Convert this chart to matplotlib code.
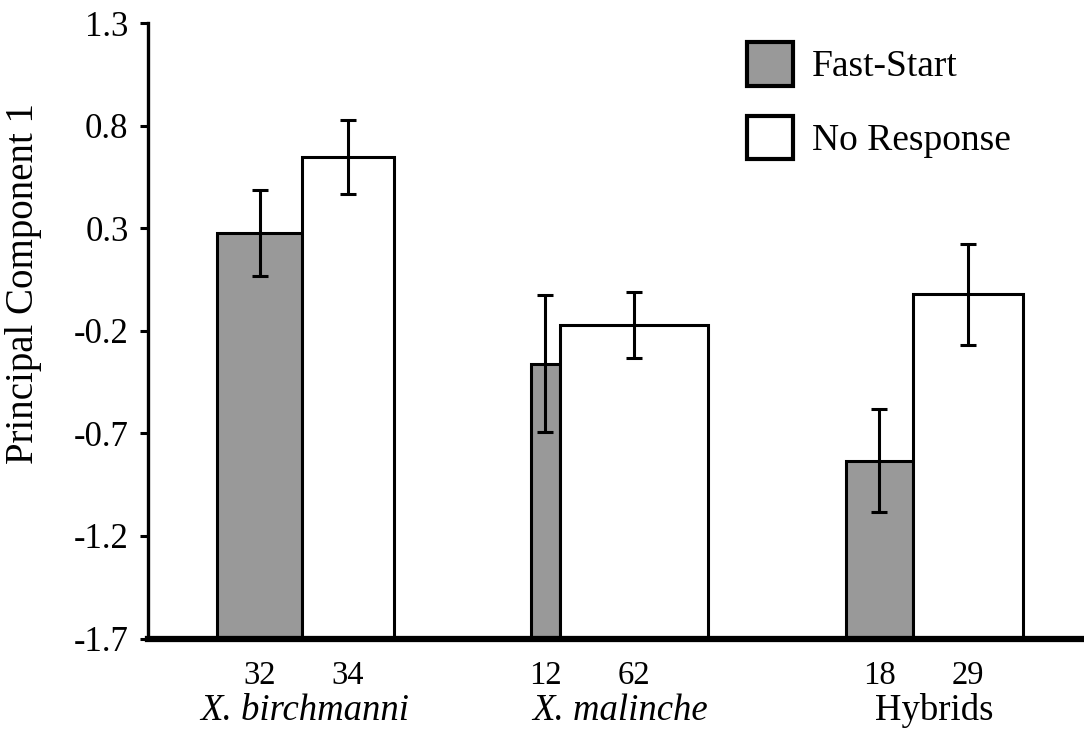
import matplotlib
matplotlib.use("Agg")
import matplotlib.pyplot as plt
import matplotlib.transforms as mtransforms
import numpy as np

GROUPS = ["X. birchmanni", "X. malinche", "Hybrids"]
GROUP_ITALIC = [True, True, False]
N_FAST = [32, 12, 18]
N_NONE = [34, 62, 29]
FAST_MEAN = [0.278, -0.360, -0.833]
FAST_ERR = [0.210, 0.335, 0.250]
NONE_MEAN = [0.648, -0.170, -0.022]
NONE_ERR = [0.180, 0.160, 0.248]
YTICKS = [-1.7, -1.2, -0.7, -0.2, 0.3, 0.8, 1.3]

GRAY = "#999999"
BASE = -1.7
GROUP_WIDTH = 0.563

plt.rcParams.update({
    "font.family": "Liberation Serif",
    "axes.unicode_minus": False,
})

fig = plt.figure(figsize=(10.84, 7.29), dpi=100)
ax = fig.add_axes([0.1365, 0.1241, 0.8635, 0.8439])

x = np.arange(len(GROUPS))
n_fast = np.array(N_FAST, dtype=float)
n_none = np.array(N_NONE, dtype=float)
w_fast = GROUP_WIDTH * n_fast / (n_fast + n_none)
w_none = GROUP_WIDTH - w_fast
left_fast = x - GROUP_WIDTH / 2
left_none = left_fast + w_fast

fast_mean = np.array(FAST_MEAN)
none_mean = np.array(NONE_MEAN)

ax.bar(left_fast, fast_mean - BASE, bottom=BASE, width=w_fast, align="edge",
       color=GRAY, edgecolor="black", linewidth=2.2, label="Fast-Start", zorder=2)
ax.bar(left_none, none_mean - BASE, bottom=BASE, width=w_none, align="edge",
       color="white", edgecolor="black", linewidth=2.2, label="No Response", zorder=2)

c_fast = left_fast + w_fast / 2
c_none = left_none + w_none / 2
for cx, m, e in [(c_fast, fast_mean, FAST_ERR), (c_none, none_mean, NONE_ERR)]:
    ax.errorbar(cx, m, yerr=e, fmt="none", ecolor="black", elinewidth=2.2,
                capsize=6, capthick=2.2, zorder=3)

ax.set_ylim(BASE, 1.3)
ax.set_xlim(-0.5, 2.477)
ax.set_yticks(YTICKS)
ax.set_yticklabels([f"{v:.1f}" for v in YTICKS], fontsize=25)
ax.tick_params(axis="y", length=6, width=2.2, pad=8)

centers = np.concatenate([c_fast, c_none])
labels = [str(n) for n in N_FAST] + [str(n) for n in N_NONE]
ax.set_xticks(centers)
ax.set_xticklabels(labels, fontsize=23.5)
ax.tick_params(axis="x", length=0, pad=16)

for s in ["top", "right"]:
    ax.spines[s].set_visible(False)
ax.spines["left"].set_linewidth(2.4)
ax.spines["bottom"].set_linewidth(4.5)
ax.spines["bottom"].set_zorder(4)

trans = mtransforms.blended_transform_factory(ax.transData, fig.transFigure)
for xi, name, it in zip(x, GROUPS, GROUP_ITALIC):
    ax.text(xi, 9 / 729, name, transform=trans, ha="center", va="baseline",
            fontsize=26.5, style="italic" if it else "normal")

fig.text(24 / 1084, 1 - 284 / 729, "Principal Component 1", rotation=90,
         ha="center", va="center", fontsize=28)

leg = ax.legend(loc="upper left", bbox_to_anchor=(747 / 1084, 1 - 42 / 729),
                bbox_transform=fig.transFigure, frameon=False, fontsize=27,
                borderpad=0, borderaxespad=0, handlelength=1.22, handleheight=1.41,
                labelspacing=0.80, handletextpad=0.5)
for p in leg.get_patches():
    p.set_linewidth(3)

fig.savefig("out.png", dpi=100)
